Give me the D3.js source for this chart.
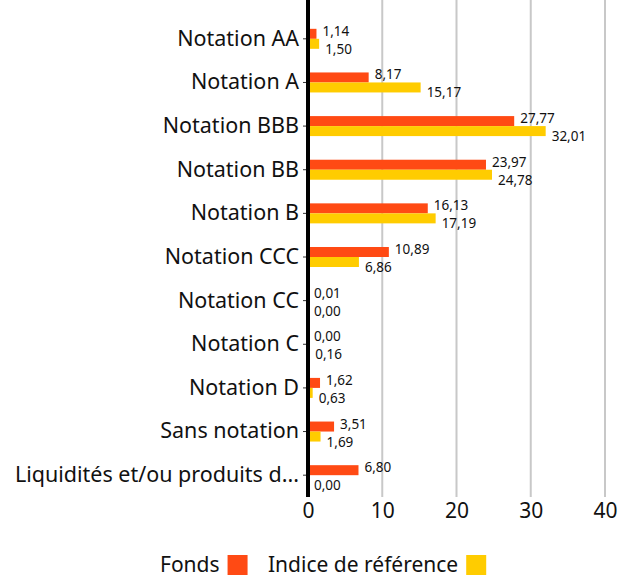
<!DOCTYPE html>
<html>
<head>
<meta charset="utf-8">
<script src="https://cdn.jsdelivr.net/npm/d3@7"></script>
<style>
  body { margin: 0; background: #fff; }
  text { font-family: "Noto Sans", sans-serif; fill: #111; }
</style>
</head>
<body>
<svg id="chart" width="632" height="579"></svg>
<script>
const categories = ['Notation AA', 'Notation A', 'Notation BBB', 'Notation BB', 'Notation B',
  'Notation CCC', 'Notation CC', 'Notation C', 'Notation D', 'Sans notation',
  'Liquidités et/ou produits d...'];
const fondsValues = [1.14, 8.17, 27.77, 23.97, 16.13, 10.89, 0.01, 0.00, 1.62, 3.51, 6.80];
const indiceValues = [1.50, 15.17, 32.01, 24.78, 17.19, 6.86, 0.00, 0.16, 0.63, 1.69, 0.00];
const xTicks = [0, 10, 20, 30, 40];
const seriesNames = ['Fonds', 'Indice de référence'];
const colors = ['#FF4A14', '#FFCC00'];

const svg = d3.select('#chart');
const margin = { top: 17, left: 308, right: 27, bottom: 82 };
const width = 632, height = 579;

const x = d3.scaleLinear().domain([0, 40]).range([margin.left, width - margin.right]);
const y = d3.scaleBand().domain(categories).range([margin.top, height - margin.bottom]);
const fmt = v => v.toFixed(2).replace('.', ',');

// gridlines
svg.append('g')
  .selectAll('line')
  .data(xTicks.slice(1))
  .join('line')
  .attr('x1', d => x(d)).attr('x2', d => x(d))
  .attr('y1', 0).attr('y2', height - margin.bottom)
  .attr('stroke', '#c8c8c8').attr('stroke-width', 2);

const barH = 10;
const series = [fondsValues, indiceValues];
series.forEach((vals, s) => {
  const g = svg.append('g');
  const barTop = (d, i) => y(categories[i]) + y.bandwidth() / 2 - barH + s * barH;
  g.selectAll('rect')
    .data(vals)
    .join('rect')
    .attr('x', x(0))
    .attr('y', barTop)
    .attr('width', d => x(d) - x(0))
    .attr('height', barH)
    .attr('fill', colors[s]);
  g.selectAll('text')
    .data(vals)
    .join('text')
    .attr('x', d => x(d) + 6)
    .attr('y', (d, i) => barTop(d, i) + (s === 0 ? 7 : 15))
    .attr('font-size', 13.5)
    .text(d => fmt(d));
});

// y axis
const yAxis = svg.append('g')
  .attr('transform', `translate(${x(0)},0)`)
  .call(d3.axisLeft(y).tickSize(5).tickPadding(4));
yAxis.select('.domain').remove();
yAxis.selectAll('.tick line').attr('stroke', '#333');
yAxis.selectAll('.tick text').attr('font-size', 21.5).attr('font-family', '"Noto Sans", sans-serif').attr('fill', '#111');
svg.append('line')
  .attr('x1', x(0)).attr('x2', x(0))
  .attr('y1', 0).attr('y2', height - margin.bottom)
  .attr('stroke', '#000').attr('stroke-width', 4);

// x axis
const xAxis = svg.append('g')
  .attr('transform', `translate(0,${height - margin.bottom})`)
  .call(d3.axisBottom(x).tickValues(xTicks).tickSize(0).tickPadding(6));
xAxis.select('.domain').remove();
xAxis.selectAll('.tick text').attr('font-size', 21).attr('font-family', '"Noto Sans", sans-serif').attr('fill', '#111');

// legend
const legend = svg.append('g').attr('transform', 'translate(0,565)');
const legendX = [160, 268];
seriesNames.forEach((name, i) => {
  const t = legend.append('text')
    .attr('x', legendX[i]).attr('y', 7)
    .attr('font-size', 21)
    .text(name);
  const w = t.node().getComputedTextLength();
  legend.append('rect')
    .attr('x', legendX[i] + w + 8).attr('y', -10)
    .attr('width', 20).attr('height', 20)
    .attr('fill', colors[i]);
});
</script>
</body>
</html>
